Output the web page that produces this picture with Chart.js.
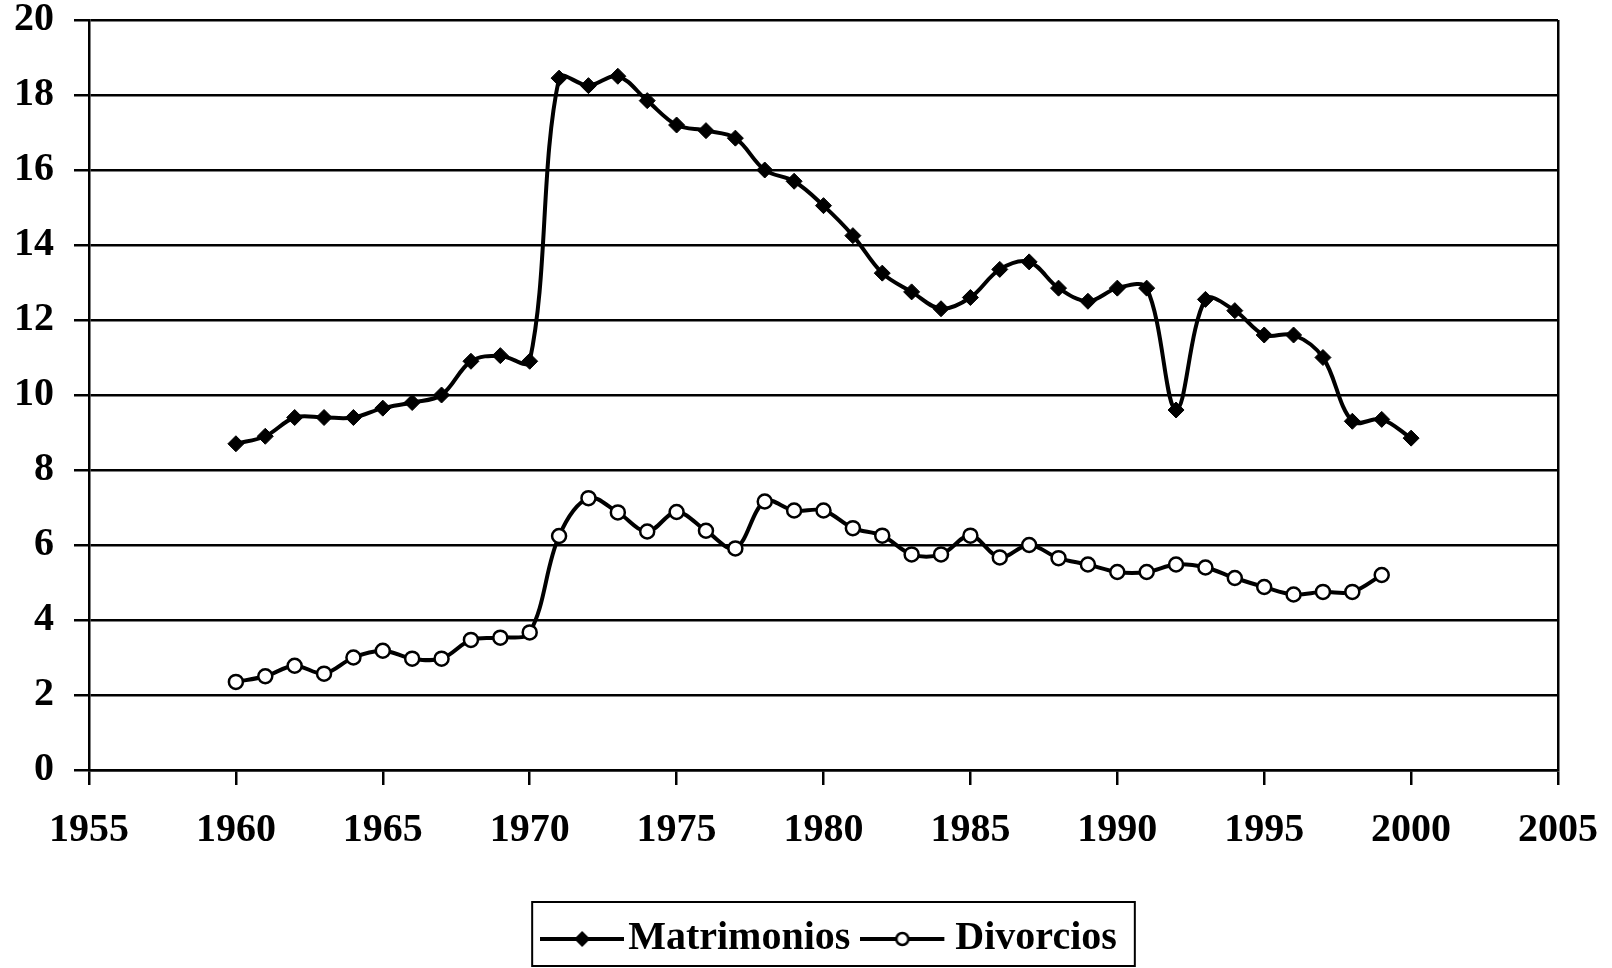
<!DOCTYPE html>
<html>
<head>
<meta charset="utf-8">
<script src="https://cdn.jsdelivr.net/npm/chart.js@4.4.1/dist/chart.umd.min.js"></script>
<style>
  html, body { margin: 0; padding: 0; background: #fff; }
  #wrap { width: 1612px; height: 968px; }
</style>
</head>
<body>
<div id="wrap"><canvas id="grafico" width="1612" height="968"></canvas></div>
<script>
// Datos (tasas por año)
const anios = [1960, 1961, 1962, 1963, 1964, 1965, 1966, 1967, 1968, 1969,
               1970, 1971, 1972, 1973, 1974, 1975, 1976, 1977, 1978, 1979,
               1980, 1981, 1982, 1983, 1984, 1985, 1986, 1987, 1988, 1989,
               1990, 1991, 1992, 1993, 1994, 1995, 1996, 1997, 1998, 1999, 2000];
const matrimonios = [8.7, 8.9, 9.4, 9.4, 9.4, 9.65, 9.8, 10.0, 10.9, 11.05,
                     10.9, 18.45, 18.25, 18.5, 17.85, 17.2, 17.05, 16.85, 16.0, 15.7,
                     15.05, 14.25, 13.25, 12.75, 12.3, 12.6, 13.35, 13.55, 12.85, 12.5,
                     12.85, 12.85, 9.6, 12.55, 12.25, 11.6, 11.6, 11.0, 9.3, 9.35, 8.85];
const divorcios = [2.35, 2.5, 2.78, 2.57, 3.0, 3.18, 2.97, 2.97, 3.47, 3.53,
                   3.67, 6.24, 7.25, 6.87, 6.36, 6.88, 6.38, 5.91, 7.16, 6.92,
                   6.92, 6.45, 6.25, 5.75, 5.75, 6.25, 5.67, 6.0, 5.65, 5.48,
                   5.28, 5.28, 5.48, 5.4, 5.12, 4.88, 4.68, 4.75, 4.75, 5.2];
const etiquetasSeries = ['Matrimonios', 'Divorcios'];
const ejeX = { min: 1955, max: 2005, paso: 5 };
const ejeY = { min: 0, max: 20, paso: 2 };

const FUENTE = '"Liberation Serif", "Times New Roman", serif';
const DESPLAZAMIENTO_LEYENDA = 13;

// Icono de leyenda: línea con el marcador en el centro
// (margen transparente a la derecha para acercar el icono al texto anterior)
function iconoLeyenda(estilo, margenDerecho) {
    const c = document.createElement('canvas');
    c.width = 84 + margenDerecho;
    c.height = 24;
    const g = c.getContext('2d');
    g.strokeStyle = '#000';
    g.lineWidth = 4;
    g.beginPath();
    g.moveTo(0, 12);
    g.lineTo(84, 12);
    g.stroke();
    if (estilo === 'rombo') {
        g.fillStyle = '#000';
        g.beginPath();
        g.moveTo(42, 4); g.lineTo(50, 12); g.lineTo(42, 20); g.lineTo(34, 12);
        g.closePath();
        g.fill();
    } else {
        g.fillStyle = '#fff';
        g.lineWidth = 2.5;
        g.beginPath();
        g.arc(42, 12, 6, 0, Math.PI * 2);
        g.fill();
        g.stroke();
    }
    return c;
}
const iconos = [iconoLeyenda('rombo', 0), iconoLeyenda('circulo', 14)];

// Mueve la leyenda un poco a la derecha y le dibuja el marco
const marcoLeyenda = {
    id: 'marcoLeyenda',
    afterInit(chart) {
        const l = chart.legend;
        if (!l) return;
        const dibujar = l.draw.bind(l);
        l.draw = function() {
            const c = chart.ctx;
            c.save();
            c.translate(DESPLAZAMIENTO_LEYENDA, 0);
            dibujar();
            c.restore();
        };
    },
    afterDraw(chart) {
        const cajas = chart.legend && chart.legend.legendHitBoxes;
        if (!cajas || !cajas.length) return;
        const primera = cajas[0];
        const ultima = cajas[cajas.length - 1];
        const ctx = chart.ctx;
        ctx.save();
        ctx.strokeStyle = '#000';
        ctx.lineWidth = 2;
        const x1 = primera.left - 24 + DESPLAZAMIENTO_LEYENDA;
        const x2 = ultima.left + ultima.width + 18 + DESPLAZAMIENTO_LEYENDA;
        const y1 = primera.top - 17;
        const y2 = primera.top + primera.height + 7;
        ctx.strokeRect(x1, y1, x2 - x1, y2 - y1);
        ctx.restore();
    }
};

const ctx = document.getElementById('grafico').getContext('2d');
new Chart(ctx, {
    type: 'line',
    data: {
        datasets: [{
            label: etiquetasSeries[0],
            data: anios.map((a, i) => ({ x: a, y: matrimonios[i] })),
            borderColor: '#000',
            backgroundColor: '#000',
            borderWidth: 4,
            tension: 0.35,
            pointStyle: 'rectRot',
            pointRadius: 8,
            pointBorderWidth: 1,
            pointBackgroundColor: '#000',
            pointBorderColor: '#000',
            fill: false
        }, {
            label: etiquetasSeries[1],
            data: divorcios.map((v, i) => ({ x: anios[i], y: v })),
            borderColor: '#000',
            backgroundColor: '#fff',
            borderWidth: 4,
            tension: 0.35,
            pointStyle: 'circle',
            pointRadius: 7,
            pointBorderWidth: 2.5,
            pointBackgroundColor: '#fff',
            pointBorderColor: '#000',
            fill: false
        }]
    },
    options: {
        responsive: false,
        animation: false,
        layout: { padding: { left: 14, right: 54, top: 0, bottom: -1 } },
        scales: {
            x: {
                type: 'linear',
                min: ejeX.min,
                max: ejeX.max,
                afterFit: (escala) => {
                    escala.height = 116;
                    escala.paddingLeft = 0;
                    escala.paddingRight = 0;
                },
                ticks: {
                    stepSize: ejeX.paso,
                    padding: 26,
                    color: '#000',
                    maxRotation: 0,
                    font: { family: FUENTE, size: 40, weight: 'bold', lineHeight: 1 },
                    callback: (v) => String(v)
                },
                grid: {
                    color: (c) => (c.tick && c.tick.value === ejeX.max ? '#000' : 'rgba(0,0,0,0)'),
                    tickColor: '#000',
                    tickLength: 15,
                    lineWidth: 2.5
                },
                border: { color: '#000', width: 2.5 }
            },
            y: {
                min: ejeY.min,
                max: ejeY.max,
                afterFit: (escala) => {
                    escala.width = 75;
                    escala.paddingTop = 20;
                    escala.paddingBottom = 0;
                },
                ticks: {
                    stepSize: ejeY.paso,
                    padding: 20,
                    color: '#000',
                    font: { family: FUENTE, size: 40, weight: 'bold', lineHeight: 1 }
                },
                grid: {
                    color: '#000',
                    tickColor: '#000',
                    tickLength: 15,
                    lineWidth: 2.5
                },
                border: { color: '#000', width: 2.5 }
            }
        },
        plugins: {
            legend: {
                position: 'bottom',
                fullSize: false,
                labels: {
                    usePointStyle: true,
                    pointStyleWidth: 52,
                    padding: 33,
                    color: '#000',
                    font: { family: FUENTE, size: 40, weight: 'bold' },
                    generateLabels: function(chart) {
                        const items = Chart.defaults.plugins.legend.labels.generateLabels(chart);
                        items.forEach((it, i) => { it.pointStyle = iconos[i]; });
                        return items;
                    }
                }
            },
            tooltip: { enabled: false }
        }
    },
    plugins: [marcoLeyenda]
});
</script>
</body>
</html>
